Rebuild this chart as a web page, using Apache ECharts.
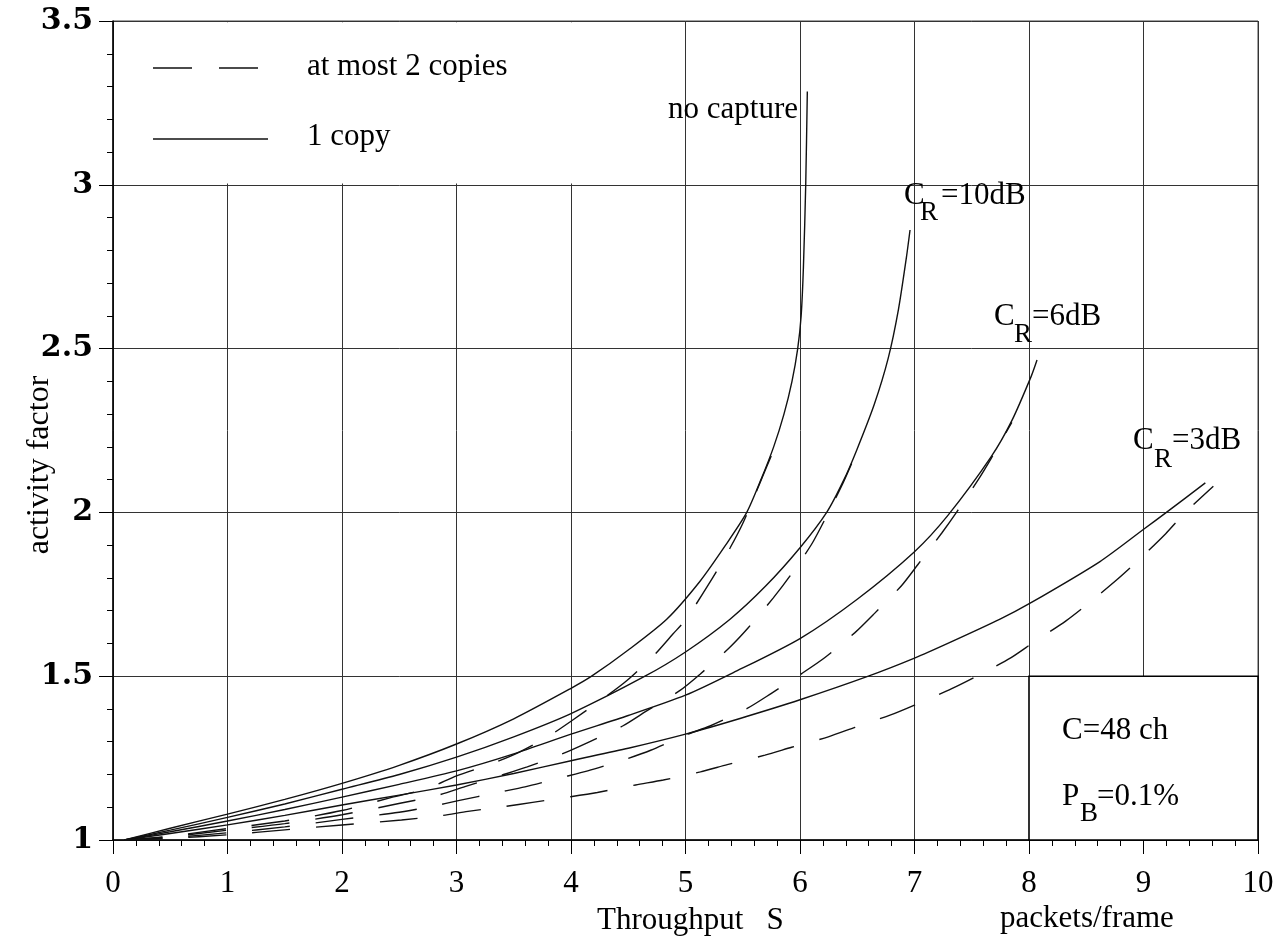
<!DOCTYPE html>
<html><head><meta charset="utf-8">
<script src="https://cdn.jsdelivr.net/npm/echarts@6.0.0/dist/echarts.min.js"></script>
<style>html,body{margin:0;padding:0;background:#fff}#c{width:1286px;height:947px}</style>
</head><body><div id="c"></div>
<script>
// ---- data ----
const xTickLabels = ['0','1','2','3','4','5','6','7','8','9','10'];
const yTickLabels = ['1','1.5','2','2.5','3','3.5'];
const legendNames = ['at most 2 copies', '1 copy'];

// 1 copy (solid)
const oneCopyNoCapture = [[0.1,1.0],[0.5,1.036],[1,1.079],[1.5,1.124],[2,1.173],[2.5,1.228],[3,1.293],[3.5,1.37],[4,1.463],[4.18,1.5],[4.5,1.58],[4.836,1.674],[5.127,1.79],[5.35,1.9],[5.535,2.0],[5.659,2.1],[5.77,2.2],[5.86,2.3],[5.93,2.4],[5.98,2.5],[6.01,2.6],[6.03,2.75],[6.05,3.0],[6.064,3.285]];
const oneCopy10dB = [[0.1,1.0],[0.5,1.03],[1,1.069],[1.5,1.11],[2,1.155],[2.5,1.2],[3,1.253],[3.5,1.315],[4,1.386],[4.646,1.5],[5,1.574],[5.389,1.674],[5.7,1.775],[6,1.892],[6.233,2.0],[6.384,2.1],[6.495,2.19],[6.649,2.33],[6.77,2.47],[6.86,2.62],[6.93,2.78],[6.961,2.862]];
const oneCopy6dB = [[0.1,1.0],[0.5,1.025],[1,1.058],[1.5,1.093],[2,1.131],[2.5,1.17],[3,1.211],[3.5,1.263],[4,1.323],[4.5,1.38],[5,1.442],[5.418,1.511],[6,1.615],[6.5,1.735],[7,1.88],[7.29,1.99],[7.67,2.17],[7.85,2.28],[8.02,2.416],[8.07,2.465]];
const oneCopy3dB = [[0.1,1.0],[0.5,1.02],[1,1.046],[1.5,1.075],[2,1.107],[2.5,1.137],[3,1.168],[3.5,1.203],[4,1.242],[4.5,1.28],[5,1.323],[5.476,1.371],[6,1.428],[6.597,1.5],[7,1.555],[7.31,1.603],[7.747,1.674],[8.006,1.722],[8.62,1.85],[9.007,1.95],[9.2,2.0],[9.54,2.09]];

// at most 2 copies (dashed)
const twoCopiesNoCapture = [[0.1,1.0],[0.5,1.012],[1,1.035],[1.5,1.058],[2,1.09],[2.434,1.13],[2.754,1.158],[3.0,1.196],[3.293,1.231],[3.54,1.267],[3.81,1.318],[4.006,1.364],[4.282,1.432],[4.486,1.486],[4.725,1.564],[4.888,1.628],[5.005,1.674],[5.23,1.796],[5.39,1.892],[5.505,1.97],[5.65,2.09],[5.77,2.19]];
const twoCopies10dB = [[0.1,1.0],[0.5,1.01],[1,1.03],[1.5,1.05],[2,1.077],[2.507,1.112],[2.83,1.136],[3.074,1.163],[3.395,1.198],[3.618,1.223],[3.918,1.262],[4.151,1.298],[4.451,1.348],[4.661,1.394],[4.946,1.455],[5.127,1.506],[5.383,1.587],[5.548,1.648],[5.767,1.739],[5.913,1.806],[6.1,1.902],[6.218,1.979],[6.376,2.09],[6.495,2.185]];
const twoCopies6dB = [[0.1,1.0],[0.5,1.007],[1,1.022],[1.5,1.04],[2,1.063],[2.463,1.083],[2.78,1.102],[3.016,1.12],[3.356,1.145],[3.598,1.162],[3.91,1.19],[4.146,1.211],[4.463,1.245],[4.696,1.274],[4.996,1.32],[5.214,1.348],[5.535,1.401],[5.747,1.447],[6.015,1.508],[6.218,1.557],[6.48,1.633],[6.649,1.691],[6.888,1.777],[7.03,1.841],[7.24,1.938],[7.374,2.004],[7.557,2.1],[7.67,2.165],[7.85,2.275]];
const twoCopies3dB = [[0.1,1.0],[0.5,1.005],[1,1.016],[1.5,1.031],[2,1.046],[2.52,1.061],[2.86,1.074],[3.1,1.0875],[3.42,1.102],[3.665,1.115],[3.997,1.132],[4.23,1.145],[4.565,1.168],[4.806,1.183],[5.13,1.208],[5.365,1.23],[5.694,1.259],[5.927,1.283],[6.247,1.315],[6.48,1.344],[6.792,1.382],[7.0,1.412],[7.325,1.462],[7.543,1.5],[7.84,1.556],[8.038,1.603],[8.323,1.669],[8.518,1.722],[8.772,1.796],[8.955,1.854],[9.194,1.935],[9.362,1.999],[9.61,2.08]];

// ---- chart ----
const SERIF = '"Liberation Serif", "Times New Roman", serif';
const DASH = [38, 26];
const chart = echarts.init(document.getElementById('c'), null, {renderer: 'canvas'});

function lineSeries(name, data, dashed, extra) {
  return Object.assign({
    name: name,
    type: 'line',
    data: data,
    symbol: 'none',
    smooth: 0.25,
    silent: true,
    lineStyle: {color: '#111', width: 1.4, type: dashed ? DASH : 'solid'},
    itemStyle: {color: '#111'},
    z: 3
  }, extra || {});
}

const solidName = legendNames[1], dashName = legendNames[0];

const series = [
  lineSeries(solidName, oneCopyNoCapture, false, {
    markArea: {
      silent: true,
      z: 1,
      data: [
        [{coord: [8, 1], itemStyle: {color: '#fff', borderColor: '#000', borderWidth: 1.6}}, {coord: [10, 1.5]}],
        [{coord: [0.012, 3.004], itemStyle: {color: '#fff', borderWidth: 0}}, {coord: [4.9, 3.496]}]
      ]
    }
  }),
  lineSeries(solidName, oneCopy10dB, false),
  lineSeries(solidName, oneCopy6dB, false),
  lineSeries(solidName, oneCopy3dB, false),
  lineSeries(dashName, twoCopiesNoCapture, true),
  lineSeries(dashName, twoCopies10dB, true),
  lineSeries(dashName, twoCopies6dB, true),
  lineSeries(dashName, twoCopies3dB, true)
];

function txt(text, x, y, size, align, extra) {
  return Object.assign({
    type: 'text', x: x, y: y, z: 100,
    style: {text: text, font: size + 'px ' + SERIF, fill: '#000', textAlign: align || 'left', textVerticalAlign: 'middle'}
  }, extra || {});
}
function sample(x1, x2, y, dashed) {
  return {type: 'line', z: 100, shape: {x1: x1, y1: y, x2: x2, y2: y},
    style: {stroke: '#111', lineWidth: 1.4, lineDash: dashed ? [39, 27] : null}};
}

const option = {
  backgroundColor: '#fff',
  animation: false,
  grid: {left: 113, right: 28, top: 21, bottom: 107, show: true, borderColor: '#444', borderWidth: 1, backgroundColor: 'transparent'},
  xAxis: {
    type: 'value', min: 0, max: 10, interval: 1,
    axisLine: {show: true, onZero: false, lineStyle: {color: '#000', width: 1.5}},
    axisTick: {show: true, length: 14, lineStyle: {color: '#000', width: 1}},
    minorTick: {show: true, splitNumber: 5, length: 6, lineStyle: {color: '#000', width: 1}},
    axisLabel: {fontFamily: SERIF, fontSize: 31, color: '#000', margin: 28,
      formatter: v => xTickLabels[Math.round(v)]},
    splitLine: {show: true, lineStyle: {color: '#333', width: 1}}
  },
  yAxis: {
    type: 'value', min: 1, max: 3.5, interval: 0.5,
    axisLine: {show: true, onZero: false, lineStyle: {color: '#000', width: 1.5}},
    axisTick: {show: true, length: 14, lineStyle: {color: '#000', width: 1}},
    minorTick: {show: true, splitNumber: 5, length: 6, lineStyle: {color: '#000', width: 1}},
    axisLabel: {fontFamily: '"DejaVu Serif", serif', fontWeight: 'bold', fontSize: 30, color: '#000', margin: 20,
      formatter: v => yTickLabels[Math.round((v - 1) / 0.5)]},
    splitLine: {show: true, lineStyle: {color: '#333', width: 1}}
  },
  series: series,
  graphic: [
    sample(153, 258, 68, true), txt(legendNames[0], 307, 67, 31),
    sample(153, 268, 139, false), txt(legendNames[1], 307, 137, 31),
    txt('no capture', 798, 110, 31, 'right'),
    txt('C', 904, 196, 31), txt('R', 920, 213, 27), txt('=10dB', 941, 196, 31),
    txt('C', 994, 317, 31), txt('R', 1014, 335, 27), txt('=6dB', 1032, 317, 31),
    txt('C', 1133, 441, 31), txt('R', 1154, 460, 27), txt('=3dB', 1172, 441, 31),
    txt('C=48 ch', 1062, 731, 31),
    txt('P', 1062, 797, 31), txt('B', 1080, 814, 27), txt('=0.1%', 1097, 797, 31),
    txt('activity factor', 40, 465, 32, 'center', {rotation: Math.PI / 2}),
    txt('Throughput   S', 597, 921, 31),
    txt('packets/frame', 1000, 919, 31)
  ]
};
chart.setOption(option);
</script>
</body></html>
